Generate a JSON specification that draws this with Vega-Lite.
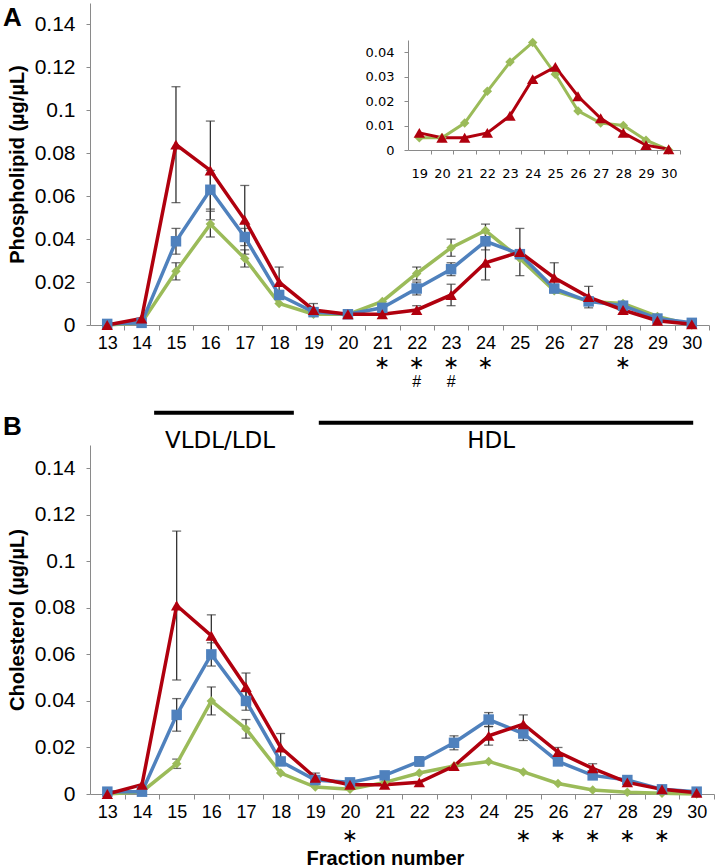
{
  "$schema": "https://vega.github.io/schema/vega-lite/v6.json",
  "padding": {"left": 2, "top": 3, "right": 0, "bottom": 0},
  "background": "white",
  "config": {
    "view": {"stroke": null},
    "axis": {"grid": false, "domainColor": "#8a8a8a", "tickColor": "#8a8a8a", "labelColor": "#000", "titleColor": "#000", "labelFont": "Liberation Sans", "titleFont": "Liberation Sans", "labelOverlap": false}
  },
  "datasets": {
    "phospho": [
      {"fraction": 13, "series": "Group 1", "value": 0}, {"fraction": 13, "series": "Group 2", "value": 0.0005}, {"fraction": 13, "series": "Group 3", "value": 0},
      {"fraction": 14, "series": "Group 1", "value": 0.001}, {"fraction": 14, "series": "Group 2", "value": 0.001}, {"fraction": 14, "series": "Group 3", "value": 0.003},
      {"fraction": 15, "series": "Group 1", "value": 0.025}, {"fraction": 15, "series": "Group 2", "value": 0.039}, {"fraction": 15, "series": "Group 3", "value": 0.084},
      {"fraction": 16, "series": "Group 1", "value": 0.047}, {"fraction": 16, "series": "Group 2", "value": 0.063}, {"fraction": 16, "series": "Group 3", "value": 0.072},
      {"fraction": 17, "series": "Group 1", "value": 0.031}, {"fraction": 17, "series": "Group 2", "value": 0.041}, {"fraction": 17, "series": "Group 3", "value": 0.049},
      {"fraction": 18, "series": "Group 1", "value": 0.010}, {"fraction": 18, "series": "Group 2", "value": 0.014}, {"fraction": 18, "series": "Group 3", "value": 0.020},
      {"fraction": 19, "series": "Group 1", "value": 0.005}, {"fraction": 19, "series": "Group 2", "value": 0.006}, {"fraction": 19, "series": "Group 3", "value": 0.007},
      {"fraction": 20, "series": "Group 1", "value": 0.005}, {"fraction": 20, "series": "Group 2", "value": 0.005}, {"fraction": 20, "series": "Group 3", "value": 0.005},
      {"fraction": 21, "series": "Group 1", "value": 0.011}, {"fraction": 21, "series": "Group 2", "value": 0.008}, {"fraction": 21, "series": "Group 3", "value": 0.005},
      {"fraction": 22, "series": "Group 1", "value": 0.024}, {"fraction": 22, "series": "Group 2", "value": 0.017}, {"fraction": 22, "series": "Group 3", "value": 0.007},
      {"fraction": 23, "series": "Group 1", "value": 0.036}, {"fraction": 23, "series": "Group 2", "value": 0.026}, {"fraction": 23, "series": "Group 3", "value": 0.014},
      {"fraction": 24, "series": "Group 1", "value": 0.044}, {"fraction": 24, "series": "Group 2", "value": 0.039}, {"fraction": 24, "series": "Group 3", "value": 0.029},
      {"fraction": 25, "series": "Group 1", "value": 0.031}, {"fraction": 25, "series": "Group 2", "value": 0.033}, {"fraction": 25, "series": "Group 3", "value": 0.034},
      {"fraction": 26, "series": "Group 1", "value": 0.016}, {"fraction": 26, "series": "Group 2", "value": 0.017}, {"fraction": 26, "series": "Group 3", "value": 0.022},
      {"fraction": 27, "series": "Group 1", "value": 0.011}, {"fraction": 27, "series": "Group 2", "value": 0.011}, {"fraction": 27, "series": "Group 3", "value": 0.013},
      {"fraction": 28, "series": "Group 1", "value": 0.010}, {"fraction": 28, "series": "Group 2", "value": 0.009}, {"fraction": 28, "series": "Group 3", "value": 0.007},
      {"fraction": 29, "series": "Group 1", "value": 0.004}, {"fraction": 29, "series": "Group 2", "value": 0.003}, {"fraction": 29, "series": "Group 3", "value": 0.002},
      {"fraction": 30, "series": "Group 1", "value": 0}, {"fraction": 30, "series": "Group 2", "value": 0.001}, {"fraction": 30, "series": "Group 3", "value": 0.0003}
    ],
    "chol": [
      {"fraction": 13, "series": "Group 1", "value": 0}, {"fraction": 13, "series": "Group 2", "value": 0.001}, {"fraction": 13, "series": "Group 3", "value": 0},
      {"fraction": 14, "series": "Group 1", "value": 0.001}, {"fraction": 14, "series": "Group 2", "value": 0.001}, {"fraction": 14, "series": "Group 3", "value": 0.004},
      {"fraction": 15, "series": "Group 1", "value": 0.013}, {"fraction": 15, "series": "Group 2", "value": 0.034}, {"fraction": 15, "series": "Group 3", "value": 0.081},
      {"fraction": 16, "series": "Group 1", "value": 0.040}, {"fraction": 16, "series": "Group 2", "value": 0.060}, {"fraction": 16, "series": "Group 3", "value": 0.068},
      {"fraction": 17, "series": "Group 1", "value": 0.028}, {"fraction": 17, "series": "Group 2", "value": 0.040}, {"fraction": 17, "series": "Group 3", "value": 0.046},
      {"fraction": 18, "series": "Group 1", "value": 0.009}, {"fraction": 18, "series": "Group 2", "value": 0.014}, {"fraction": 18, "series": "Group 3", "value": 0.020},
      {"fraction": 19, "series": "Group 1", "value": 0.003}, {"fraction": 19, "series": "Group 2", "value": 0.006}, {"fraction": 19, "series": "Group 3", "value": 0.007},
      {"fraction": 20, "series": "Group 1", "value": 0.002}, {"fraction": 20, "series": "Group 2", "value": 0.005}, {"fraction": 20, "series": "Group 3", "value": 0.004},
      {"fraction": 21, "series": "Group 1", "value": 0.005}, {"fraction": 21, "series": "Group 2", "value": 0.008}, {"fraction": 21, "series": "Group 3", "value": 0.004},
      {"fraction": 22, "series": "Group 1", "value": 0.009}, {"fraction": 22, "series": "Group 2", "value": 0.014}, {"fraction": 22, "series": "Group 3", "value": 0.005},
      {"fraction": 23, "series": "Group 1", "value": 0.012}, {"fraction": 23, "series": "Group 2", "value": 0.022}, {"fraction": 23, "series": "Group 3", "value": 0.012},
      {"fraction": 24, "series": "Group 1", "value": 0.014}, {"fraction": 24, "series": "Group 2", "value": 0.032}, {"fraction": 24, "series": "Group 3", "value": 0.025},
      {"fraction": 25, "series": "Group 1", "value": 0.0095}, {"fraction": 25, "series": "Group 2", "value": 0.026}, {"fraction": 25, "series": "Group 3", "value": 0.030},
      {"fraction": 26, "series": "Group 1", "value": 0.0045}, {"fraction": 26, "series": "Group 2", "value": 0.014}, {"fraction": 26, "series": "Group 3", "value": 0.018},
      {"fraction": 27, "series": "Group 1", "value": 0.0017}, {"fraction": 27, "series": "Group 2", "value": 0.008}, {"fraction": 27, "series": "Group 3", "value": 0.011},
      {"fraction": 28, "series": "Group 1", "value": 0.0008}, {"fraction": 28, "series": "Group 2", "value": 0.006}, {"fraction": 28, "series": "Group 3", "value": 0.005},
      {"fraction": 29, "series": "Group 1", "value": 0.0003}, {"fraction": 29, "series": "Group 2", "value": 0.002}, {"fraction": 29, "series": "Group 3", "value": 0.002},
      {"fraction": 30, "series": "Group 1", "value": 0}, {"fraction": 30, "series": "Group 2", "value": 0.001}, {"fraction": 30, "series": "Group 3", "value": 0.0005}
    ],
    "errA": [
      {"fraction": 15, "series": "Group 1", "mean": 0.025, "err": 0.004},
      {"fraction": 16, "series": "Group 1", "mean": 0.047, "err": 0.006},
      {"fraction": 17, "series": "Group 1", "mean": 0.031, "err": 0.004},
      {"fraction": 22, "series": "Group 1", "mean": 0.024, "err": 0.003},
      {"fraction": 23, "series": "Group 1", "mean": 0.036, "err": 0.004},
      {"fraction": 24, "series": "Group 1", "mean": 0.044, "err": 0.003},
      {"fraction": 15, "series": "Group 2", "mean": 0.039, "err": 0.006},
      {"fraction": 16, "series": "Group 2", "mean": 0.063, "err": 0.009},
      {"fraction": 17, "series": "Group 2", "mean": 0.041, "err": 0.004},
      {"fraction": 22, "series": "Group 2", "mean": 0.017, "err": 0.003},
      {"fraction": 23, "series": "Group 2", "mean": 0.026, "err": 0.003},
      {"fraction": 24, "series": "Group 2", "mean": 0.039, "err": 0.004},
      {"fraction": 15, "series": "Group 3", "mean": 0.084, "err": 0.027},
      {"fraction": 16, "series": "Group 3", "mean": 0.072, "err": 0.023},
      {"fraction": 17, "series": "Group 3", "mean": 0.049, "err": 0.016},
      {"fraction": 18, "series": "Group 3", "mean": 0.020, "err": 0.007},
      {"fraction": 19, "series": "Group 3", "mean": 0.007, "err": 0.003},
      {"fraction": 22, "series": "Group 3", "mean": 0.007, "err": 0.002},
      {"fraction": 23, "series": "Group 3", "mean": 0.014, "err": 0.005},
      {"fraction": 24, "series": "Group 3", "mean": 0.029, "err": 0.008},
      {"fraction": 25, "series": "Group 3", "mean": 0.034, "err": 0.011},
      {"fraction": 26, "series": "Group 3", "mean": 0.022, "err": 0.007},
      {"fraction": 27, "series": "Group 3", "mean": 0.013, "err": 0.005},
      {"fraction": 28, "series": "Group 3", "mean": 0.007, "err": 0.002}
    ],
    "errB": [
      {"fraction": 15, "series": "Group 1", "mean": 0.013, "err": 0.002},
      {"fraction": 16, "series": "Group 1", "mean": 0.040, "err": 0.006},
      {"fraction": 17, "series": "Group 1", "mean": 0.028, "err": 0.004},
      {"fraction": 15, "series": "Group 2", "mean": 0.034, "err": 0.007},
      {"fraction": 16, "series": "Group 2", "mean": 0.060, "err": 0.005},
      {"fraction": 17, "series": "Group 2", "mean": 0.040, "err": 0.004},
      {"fraction": 22, "series": "Group 2", "mean": 0.014, "err": 0.002},
      {"fraction": 23, "series": "Group 2", "mean": 0.022, "err": 0.003},
      {"fraction": 24, "series": "Group 2", "mean": 0.032, "err": 0.003},
      {"fraction": 25, "series": "Group 2", "mean": 0.026, "err": 0.003},
      {"fraction": 15, "series": "Group 3", "mean": 0.081, "err": 0.032},
      {"fraction": 16, "series": "Group 3", "mean": 0.068, "err": 0.009},
      {"fraction": 17, "series": "Group 3", "mean": 0.046, "err": 0.006},
      {"fraction": 18, "series": "Group 3", "mean": 0.020, "err": 0.006},
      {"fraction": 19, "series": "Group 3", "mean": 0.007, "err": 0.002},
      {"fraction": 24, "series": "Group 3", "mean": 0.025, "err": 0.004},
      {"fraction": 25, "series": "Group 3", "mean": 0.030, "err": 0.004},
      {"fraction": 26, "series": "Group 3", "mean": 0.018, "err": 0.002},
      {"fraction": 27, "series": "Group 3", "mean": 0.011, "err": 0.002}
    ],
    "sigA": [
      {"fraction": 21, "symbol": "∗"}, {"fraction": 22, "symbol": "∗"}, {"fraction": 23, "symbol": "∗"}, {"fraction": 24, "symbol": "∗"}, {"fraction": 28, "symbol": "∗"},
      {"fraction": 22, "symbol": "#"}, {"fraction": 23, "symbol": "#"}
    ],
    "sigB": [
      {"fraction": 20, "symbol": "∗"}, {"fraction": 25, "symbol": "∗"}, {"fraction": 26, "symbol": "∗"}, {"fraction": 27, "symbol": "∗"}, {"fraction": 28, "symbol": "∗"}, {"fraction": 29, "symbol": "∗"}
    ]
  },
  "spacing": 120,
  "bounds": "flush",
  "vconcat": [
    {
      "width": 619,
      "height": 322,
      "layer": [
        {
          "layer": [
            {
              "data": {"name": "errA"},
              "mark": {"type": "errorbar", "ticks": true, "color": "#333", "thickness": 1.3, "size": 9},
              "encoding": {
                "x": {"field": "fraction", "type": "quantitative", "scale": {"domain": [12.5, 30.5], "nice": false, "zero": false}},
                "y": {"field": "mean", "type": "quantitative", "scale": {"domain": [0, 0.15], "nice": false}, "title": "Phospholipid (µg/µL)"},
                "yError": {"field": "err"}
              }
            },
            {
              "data": {"name": "phospho"},
              "mark": {"type": "line", "strokeWidth": 3.5},
              "encoding": {
                "x": {"field": "fraction", "type": "quantitative", "scale": {"domain": [12.5, 30.5], "nice": false, "zero": false},
                  "axis": {"values": [13,14,15,16,17,18,19,20,21,22,23,24,25,26,27,28,29,30], "tickCount": 40, "format": "d", "title": null, "labelFontSize": 18, "tickSize": 5, "tickOffset": 17.2, "labelOffset": -17.2, "labelPadding": 4, "labelOverlap": false, "labelFlush": false}},
                "y": {"field": "value", "type": "quantitative", "scale": {"domain": [0, 0.15], "nice": false}, "title": "Phospholipid (µg/µL)",
                  "axis": {"values": [0, 0.02, 0.04, 0.06, 0.08, 0.1, 0.12, 0.14], "format": "~g", "labelFontSize": 21, "labelPadding": 11, "tickSize": 4, "titleFontSize": 20, "titleFontWeight": "bold", "titlePadding": 7}},
                "color": {"field": "series", "type": "nominal", "scale": {"domain": ["Group 1", "Group 2", "Group 3"], "range": ["#9BBB59", "#4F81BD", "#B0000E"]}, "legend": null}
              }
            },
            {
              "data": {"name": "phospho"},
              "mark": {"type": "point", "filled": true, "opacity": 1},
              "encoding": {
                "x": {"field": "fraction", "type": "quantitative"},
                "y": {"field": "value", "type": "quantitative", "title": "Phospholipid (µg/µL)"},
                "color": {"field": "series", "type": "nominal", "legend": null},
                "shape": {"field": "series", "type": "nominal", "scale": {"domain": ["Group 1", "Group 2", "Group 3"], "range": ["diamond", "square", "triangle-up"]}, "legend": null},
                "size": {"field": "series", "type": "ordinal", "scale": {"domain": ["Group 1", "Group 2", "Group 3"], "range": [90, 130, 190]}, "legend": null}
              }
            },
            {
              "data": {"name": "sigA"},
              "transform": [{"filter": "datum.symbol == '∗'"}],
              "mark": {"type": "text", "font": "DejaVu Sans", "fontSize": 19, "align": "center", "baseline": "middle", "color": "#000"},
              "encoding": {
                "x": {"field": "fraction", "type": "quantitative"},
                "y": {"datum": -0.0178, "type": "quantitative"},
                "text": {"field": "symbol"}
              }
            },
            {
              "data": {"name": "sigA"},
              "transform": [{"filter": "datum.symbol == '#'"}],
              "mark": {"type": "text", "font": "Liberation Sans", "fontSize": 16, "align": "center", "baseline": "middle", "color": "#000"},
              "encoding": {
                "x": {"field": "fraction", "type": "quantitative"},
                "y": {"datum": -0.0265, "type": "quantitative"},
                "text": {"field": "symbol"}
              }
            },
            {
              "data": {"values": [{"label": "A"}]},
              "mark": {"type": "text", "font": "Liberation Sans", "fontSize": 26, "fontWeight": "bold", "align": "left", "baseline": "alphabetic"},
              "encoding": {
                "x": {"datum": 9.97, "type": "quantitative"},
                "y": {"datum": 0.1395, "type": "quantitative"},
                "text": {"field": "label"}
              }
            }
          ]
        },
        {
          "data": {"name": "phospho"},
          "transform": [{"filter": "datum.fraction >= 19 && datum.series != 'Group 2'"}],
          "layer": [
            {
              "mark": {"type": "line", "strokeWidth": 3},
              "encoding": {
                "x": {"field": "fraction", "type": "quantitative", "scale": {"domain": [18.5, 30.5], "range": [318, 590], "nice": false, "zero": false},
                  "axis": {"orient": "bottom", "offset": -175, "values": [19,20,21,22,23,24,25,26,27,28,29,30], "tickCount": 40, "format": "d", "title": null, "labelFont": "DejaVu Sans", "labelFontSize": 13, "tickSize": 4, "tickOffset": 11.33, "labelOffset": -11.33, "labelPadding": 13, "labelOverlap": false, "labelFlush": false}},
                "y": {"field": "value", "type": "quantitative", "scale": {"domain": [0, 0.045], "range": [147, 37], "nice": false},
                  "axis": {"orient": "left", "offset": -318, "values": [0, 0.01, 0.02, 0.03, 0.04], "format": "~g", "title": null, "labelFont": "DejaVu Sans", "labelFontSize": 13, "tickSize": 4, "labelPadding": 10}},
                "color": {"field": "series", "type": "nominal", "legend": null}
              }
            },
            {
              "mark": {"type": "point", "filled": true, "opacity": 1},
              "encoding": {
                "x": {"field": "fraction", "type": "quantitative"},
                "y": {"field": "value", "type": "quantitative"},
                "color": {"field": "series", "type": "nominal", "legend": null},
                "shape": {"field": "series", "type": "nominal", "legend": null},
                "size": {"field": "series", "type": "ordinal", "legend": null}
              }
            }
          ]
        }
      ],
      "resolve": {"scale": {"x": "independent", "y": "independent"}, "axis": {"x": "independent", "y": "independent"}}
    },
    {
      "width": 624,
      "height": 349,
      "layer": [
        {
          "data": {"name": "errB"},
          "mark": {"type": "errorbar", "ticks": true, "color": "#333", "thickness": 1.3, "size": 9},
          "encoding": {
            "x": {"field": "fraction", "type": "quantitative", "scale": {"domain": [12.5, 30.5], "nice": false, "zero": false}},
            "y": {"field": "mean", "type": "quantitative", "scale": {"domain": [0, 0.15], "nice": false}, "title": "Cholesterol (µg/µL)"},
            "yError": {"field": "err"}
          }
        },
        {
          "data": {"name": "chol"},
          "mark": {"type": "line", "strokeWidth": 3.5},
          "encoding": {
            "x": {"field": "fraction", "type": "quantitative", "scale": {"domain": [12.5, 30.5], "nice": false, "zero": false},
              "axis": {"values": [13,14,15,16,17,18,19,20,21,22,23,24,25,26,27,28,29,30], "tickCount": 40, "format": "d", "title": "Fraction number", "titleFontSize": 20, "titleFontWeight": "bold", "titlePadding": 27, "titleX": 295, "labelFontSize": 18, "tickSize": 5, "tickOffset": 17.33, "labelOffset": -17.33, "labelPadding": 4, "labelOverlap": false, "labelFlush": false}},
            "y": {"field": "value", "type": "quantitative", "scale": {"domain": [0, 0.15], "nice": false}, "title": "Cholesterol (µg/µL)",
              "axis": {"values": [0, 0.02, 0.04, 0.06, 0.08, 0.1, 0.12, 0.14], "format": "~g", "labelFontSize": 21, "labelPadding": 11, "tickSize": 4, "titleFontSize": 20, "titleFontWeight": "bold", "titlePadding": 7}},
            "color": {"field": "series", "type": "nominal", "scale": {"domain": ["Group 1", "Group 2", "Group 3"], "range": ["#9BBB59", "#4F81BD", "#B0000E"]}, "legend": null}
          }
        },
        {
          "data": {"name": "chol"},
          "mark": {"type": "point", "filled": true, "opacity": 1},
          "encoding": {
            "x": {"field": "fraction", "type": "quantitative"},
            "y": {"field": "value", "type": "quantitative", "title": "Cholesterol (µg/µL)"},
            "color": {"field": "series", "type": "nominal", "legend": null},
            "shape": {"field": "series", "type": "nominal", "scale": {"domain": ["Group 1", "Group 2", "Group 3"], "range": ["diamond", "square", "triangle-up"]}, "legend": null},
            "size": {"field": "series", "type": "ordinal", "scale": {"domain": ["Group 1", "Group 2", "Group 3"], "range": [90, 130, 190]}, "legend": null}
          }
        },
        {
          "data": {"name": "sigB"},
          "mark": {"type": "text", "font": "DejaVu Sans", "fontSize": 19, "align": "center", "baseline": "middle", "color": "#000"},
          "encoding": {
            "x": {"field": "fraction", "type": "quantitative"},
            "y": {"datum": -0.0181, "type": "quantitative"},
            "text": {"field": "symbol"}
          }
        },
        {
          "data": {"values": [{"label": "VLDL/LDL"}]},
          "mark": {"type": "rule", "strokeWidth": 4, "color": "#000"},
          "encoding": {
            "x": {"datum": 14.35, "type": "quantitative"},
            "x2": {"datum": 18.38},
            "y": {"datum": 0.1639, "type": "quantitative"}
          }
        },
        {
          "data": {"values": [{"label": "HDL"}]},
          "mark": {"type": "rule", "strokeWidth": 4, "color": "#000"},
          "encoding": {
            "x": {"datum": 19.1, "type": "quantitative"},
            "x2": {"datum": 29.9},
            "y": {"datum": 0.1596, "type": "quantitative"}
          }
        },
        {
          "data": {"values": [{"label": "VLDL/LDL"}]},
          "mark": {"type": "text", "font": "DejaVu Sans", "fontSize": 23, "align": "center", "baseline": "alphabetic"},
          "encoding": {
            "x": {"datum": 16.25, "type": "quantitative"},
            "y": {"datum": 0.1488, "type": "quantitative"},
            "text": {"field": "label"}
          }
        },
        {
          "data": {"values": [{"label": "HDL"}]},
          "mark": {"type": "text", "font": "DejaVu Sans", "fontSize": 23, "align": "center", "baseline": "alphabetic"},
          "encoding": {
            "x": {"datum": 24.07, "type": "quantitative"},
            "y": {"datum": 0.1488, "type": "quantitative"},
            "text": {"field": "label"}
          }
        },
        {
          "data": {"values": [{"label": "B"}]},
          "mark": {"type": "text", "font": "Liberation Sans", "fontSize": 26, "fontWeight": "bold", "align": "left", "baseline": "alphabetic"},
          "encoding": {
            "x": {"datum": 9.99, "type": "quantitative"},
            "y": {"datum": 0.1544, "type": "quantitative"},
            "text": {"field": "label"}
          }
        }
      ]
    }
  ]
}
